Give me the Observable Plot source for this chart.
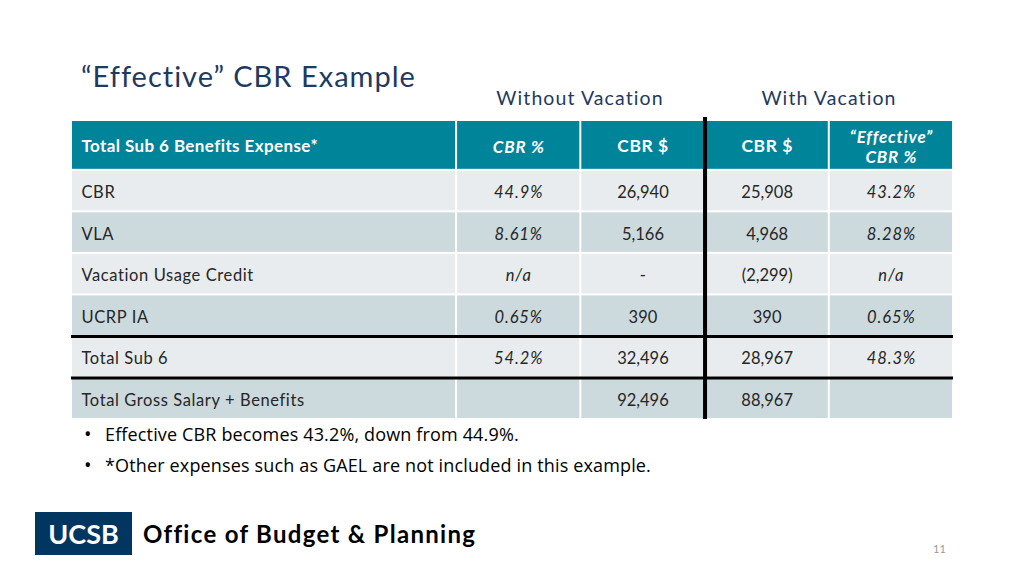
<!DOCTYPE html>
<html>
<head>
<meta charset="utf-8">
<script src="https://cdn.jsdelivr.net/npm/d3@7"></script>
<script src="https://cdn.jsdelivr.net/npm/@observablehq/plot@0.6"></script>
<style>
  html, body { margin: 0; padding: 0; background: #fff; }
  #page { position: relative; width: 1024px; height: 576px; overflow: hidden; font-family: Lato, "Open Sans", sans-serif; }
  .abs { position: absolute; white-space: nowrap; }
  #title { left: 81px; top: 61px; font-size: 29px; line-height: 29px; color: #1F3A5F; letter-spacing: 1px; }
  .group { top: 88px; font-size: 19.5px; line-height: 19px; color: #1F3A5F; transform: translateX(-50%); letter-spacing: 1.1px; }
  #chart { position: absolute; left: 70px; top: 117px; }
  .bullet { left: 84px; font-size: 18px; line-height: 18px; color: #000; font-family: "Open Sans", Lato, sans-serif; letter-spacing: 0.15px; }
  .bullet span { display: inline-block; width: 21px; font-size: 20px; }
  #logo { left: 35px; top: 512px; width: 97px; height: 43px; background: #003660; color: #fff; font-weight: 700; font-size: 27px; line-height: 43px; text-align: center; }
  #office { left: 143px; top: 522px; font-size: 24px; line-height: 24px; font-weight: 700; color: #000; letter-spacing: 1.3px; }
  #pagenum { left: 933px; top: 543px; font-size: 11px; line-height: 11px; color: #9a9a9a; }
</style>
</head>
<body>
<div id="page">
  <div id="title" class="abs"></div>
  <div id="g0" class="abs group" style="left:580px"></div>
  <div id="g1" class="abs group" style="left:829px"></div>
  <div id="chart"></div>
  <div id="b0" class="abs bullet" style="top:425px"></div>
  <div id="b1" class="abs bullet" style="top:456px"></div>
  <div id="logo" class="abs">UCSB</div>
  <div id="office" class="abs">Office of Budget &amp; Planning</div>
  <div id="pagenum" class="abs">11</div>
</div>
<script>
// ---- data ----
const titleText = "“Effective” CBR Example";
const groupLabels = ["Without Vacation", "With Vacation"];
const headers = ["Total Sub 6 Benefits Expense*", "CBR %", "CBR $", "CBR $", "“Effective”\nCBR %"];
const rowLabels = ["CBR", "VLA", "Vacation Usage Credit", "UCRP IA", "Total Sub 6", "Total Gross Salary + Benefits"];
const cbrPctWithout = ["44.9%", "8.61%", "n/a", "0.65%", "54.2%", ""];
const cbrDollarWithout = ["26,940", "5,166", "-", "390", "32,496", "92,496"];
const cbrDollarWith = ["25,908", "4,968", "(2,299)", "390", "28,967", "88,967"];
const effectivePctWith = ["43.2%", "8.28%", "n/a", "0.65%", "48.3%", ""];
const notes = ["Effective CBR becomes 43.2%, down from 44.9%.", "*Other expenses such as GAEL are not included in this example."];

document.getElementById("title").textContent = titleText;
document.getElementById("g0").textContent = groupLabels[0];
document.getElementById("g1").textContent = groupLabels[1];
notes.forEach((t, i) => {
  const el = document.getElementById("b" + i);
  el.innerHTML = "<span>•</span>";
  el.appendChild(document.createTextNode(t));
});

// ---- layout in table units ----
const labelSpan = 3.1, headerSpan = 1.2;
const colStart = c => c === 0 ? 0 : labelSpan + (c - 1);
const colEnd = c => c === 0 ? labelSpan : labelSpan + c;
const rowStart = r => r === 0 ? 0 : headerSpan + (r - 1);
const rowEnd = r => r === 0 ? headerSpan : headerSpan + r;
const nCols = headers.length, nRows = rowLabels.length + 1;
const xMax = colEnd(nCols - 1), yMax = rowEnd(nRows - 1);

const teal = "#00849A", light = "#E8ECEE", dark = "#CCD9DD";
const columns = [rowLabels, cbrPctWithout, cbrDollarWithout, cbrDollarWith, effectivePctWith];
const cells = [];
for (let r = 0; r < nRows; r++) {
  for (let c = 0; c < nCols; c++) {
    cells.push({
      r, c,
      text: r === 0 ? headers[c] : columns[c][r - 1],
      fill: r === 0 ? teal : (r % 2 === 1 ? light : dark),
      header: r === 0,
      italic: (c === 1 || c === 4),
    });
  }
}
const hdr = cells.filter(d => d.header);
const body = cells.filter(d => !d.header);
const xPos = d => d.c === 0 ? colStart(0) : (colStart(d.c) + colEnd(d.c)) / 2;
const yPos = d => (rowStart(d.r) + rowEnd(d.r)) / 2;

const chart = Plot.plot({
  width: 884, height: 302,
  marginTop: 3, marginBottom: 0, marginLeft: 1, marginRight: 1,
  x: {domain: [0, xMax], axis: null},
  y: {domain: [0, yMax], axis: null, reverse: true},
  style: {fontFamily: "Lato, sans-serif", background: "transparent"},
  marks: [
    Plot.rect(cells, {x1: d => colStart(d.c), x2: d => colEnd(d.c), y1: d => rowStart(d.r), y2: d => rowEnd(d.r), fill: d => d.fill, inset: 1}),
    Plot.ruleY([rowStart(5), rowStart(6)], {x1: 0, x2: xMax, stroke: "#000", strokeWidth: 3}),
    Plot.ruleX([colStart(3)], {y1: 0, y2: yMax, stroke: "#000", strokeWidth: 4, insetTop: -3}),
    Plot.text(hdr.filter(d => d.c === 0), {x: xPos, y: yPos, text: "text", fill: "#fff", fontWeight: 700, fontSize: 17, textAnchor: "start", dx: 10, dy: 1}),
    Plot.text(hdr.filter(d => d.c > 0 && !d.italic), {x: xPos, y: yPos, text: "text", fill: "#fff", fontWeight: 700, fontSize: 17.5, textAnchor: "middle", dy: 1}),
    Plot.text(hdr.filter(d => d.italic), {x: xPos, y: yPos, text: "text", fill: "#fff", fontWeight: 700, fontStyle: "italic", fontSize: 17, lineHeight: 1.2, textAnchor: "middle", dy: 1}),
    Plot.text(body.filter(d => d.c === 0), {x: xPos, y: yPos, text: "text", fill: "#262626", fontSize: 16.5, textAnchor: "start", dx: 10, dy: 2}),
    Plot.text(body.filter(d => d.c > 0 && !d.italic), {x: xPos, y: yPos, text: "text", fill: "#262626", fontSize: 16.5, textAnchor: "middle", dy: 2}),
    Plot.text(body.filter(d => d.italic), {x: xPos, y: yPos, text: "text", fill: "#262626", fontSize: 16.5, fontStyle: "italic", textAnchor: "middle", dy: 2}),
  ]
});
const textGroups = chart.querySelectorAll('g[aria-label="text"]');
if (textGroups[0]) textGroups[0].setAttribute("letter-spacing", "0.4");
if (textGroups[1]) textGroups[1].setAttribute("letter-spacing", "0.5");
if (textGroups[2]) textGroups[2].setAttribute("letter-spacing", "0.8");
if (textGroups[3]) textGroups[3].setAttribute("letter-spacing", "0.6");
if (textGroups[5]) textGroups[5].setAttribute("letter-spacing", "0.9");
document.getElementById("chart").appendChild(chart);
</script>
</body>
</html>
